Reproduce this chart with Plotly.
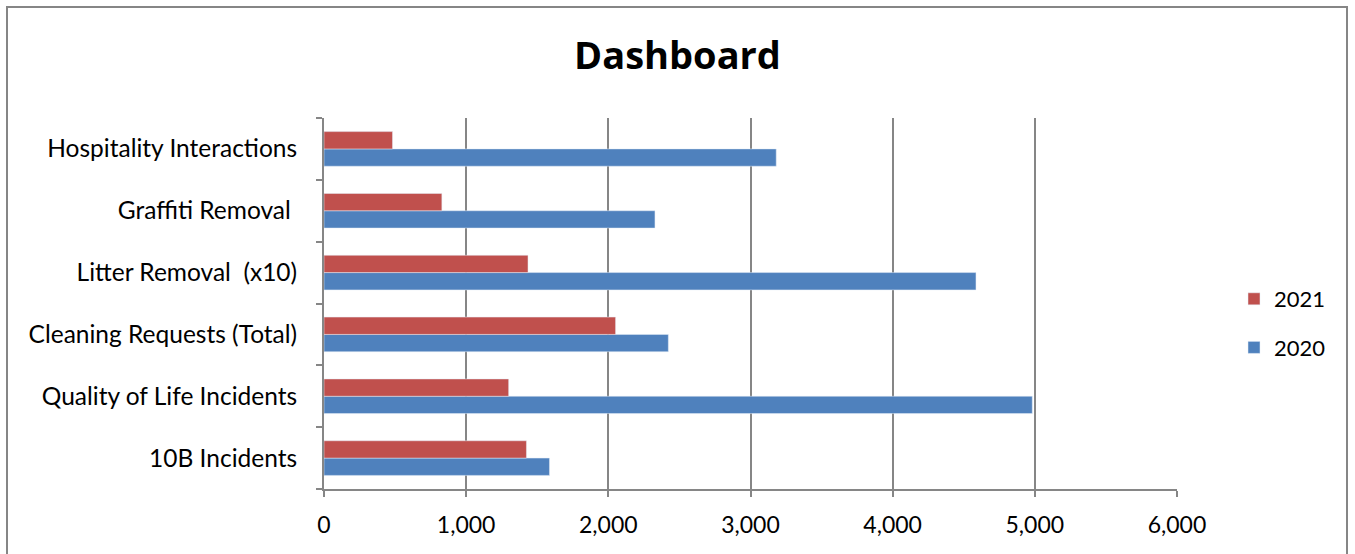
import plotly.graph_objects as go

categories = ["10B Incidents", "Quality of Life Incidents", "Cleaning Requests (Total)",
              "Litter Removal  (x10)", "Graffiti Removal ", "Hospitality Interactions"]
values_2020 = [1586, 4982, 2422, 4586, 2328, 3181]
values_2021 = [1424, 1299, 2051, 1435, 829, 482]
x_ticks = [0, 1000, 2000, 3000, 4000, 5000, 6000]

W, H = 1355, 554
L, R, T, B = 324, 1177, 118, 489
pw, ph = R - L, B - T

font = "Lato, Open Sans, sans-serif"
grey = "#868686"

fig = go.Figure()
fig.add_trace(go.Bar(y=categories, x=values_2020, name="2020", orientation="h",
                     legendgroup="b", legendrank=2, marker=dict(color="#4F81BD")))
fig.add_trace(go.Bar(y=categories, x=values_2021, name="2021", orientation="h",
                     legendgroup="a", legendrank=1, marker=dict(color="#C0504D")))

def px_x(p):
    return (p - L) / pw

def px_y(p):
    return (B - p) / ph

fig.update_layout(
    width=W, height=H,
    margin=dict(l=L, r=W - R, t=T, b=H - B, pad=0),
    paper_bgcolor="white", plot_bgcolor="white",
    barmode="group", bargap=0.44, bargroupgap=0,
    font=dict(family=font, size=23, color="black"),
    title=dict(text="<b>Dashboard</b>", x=0.5, xref="container", xanchor="center",
               y=1 - 56 / H, yref="container", yanchor="middle",
               font=dict(size=38, family="Open Sans, Lato, sans-serif", color="black")),
    legend=dict(x=px_x(1234), y=px_y(278), xanchor="left", yanchor="top",
                traceorder="grouped", font=dict(size=22), itemwidth=30,
                tracegroupgap=17, bgcolor="rgba(0,0,0,0)"),
    xaxis=dict(range=[0, 6000], tickvals=x_ticks, tickformat=",",
               showgrid=True, gridcolor=grey, gridwidth=2,
               showline=True, linecolor=grey, linewidth=2,
               ticks="outside", ticklen=6, tickcolor=grey, tickwidth=2,
               zeroline=False, fixedrange=True, ticklabelstandoff=8,
               tickfont=dict(size=23)),
    yaxis=dict(type="category", categoryorder="array", categoryarray=categories,
               showline=True, linecolor=grey, linewidth=2,
               ticks="outside", ticklen=6, tickcolor=grey, tickwidth=2,
               tickson="boundaries", showgrid=False, zeroline=False,
               ticklabelstandoff=20, tickfont=dict(size=24.5)),
    shapes=[dict(type="rect", xref="paper", yref="paper",
                 x0=px_x(7), x1=px_x(1347), y0=px_y(558), y1=px_y(7),
                 line=dict(color=grey, width=2), fillcolor="rgba(0,0,0,0)", layer="below")],
)

fig.write_html("out.html", config={"displayModeBar": False},
               post_script="document.body.style.margin='0';")
